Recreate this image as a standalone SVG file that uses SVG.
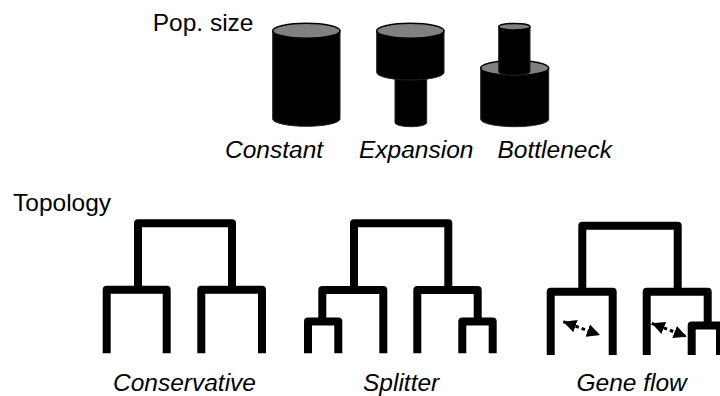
<svg xmlns="http://www.w3.org/2000/svg" width="720" height="396" viewBox="0 0 720 396">
  <style>
    .lbl { font-family: "Liberation Sans", Arial, Helvetica, sans-serif; font-size: 24.5px; fill: #000; }
    .it { font-style: italic; }
    .body { fill: #000; stroke: #222; stroke-width: 1; }
    .top { fill: #808080; stroke: #000; stroke-width: 1.5; }
    .tree { fill: none; stroke: #000; stroke-width: 8; stroke-linejoin: round; stroke-linecap: butt; }
    .flow { fill: none; stroke: #000; stroke-width: 3; stroke-dasharray: 3.5 3; }
  </style>
  <defs>
    <marker id="ah" markerUnits="userSpaceOnUse" markerWidth="14" markerHeight="14" refX="13" refY="7" orient="auto-start-reverse" viewBox="0 0 14 14">
      <path d="M0,0.5 L13,7 L0,13.5 Z" fill="#000"/>
    </marker>
  </defs>

  <rect width="720" height="396" fill="#fff"/>

  <text class="lbl" x="152.7" y="31">Pop. size</text>
  <text class="lbl" x="13" y="211">Topology</text>

  <g id="constant">
    <path class="body" d="M272.7,30.7 L272.7,119.2 A33.7,7.5 0 0 0 340,119.2 L340,30.7 Z"/>
    <ellipse class="top" cx="306.35" cy="30.7" rx="33.65" ry="7.5"/>
    <text class="lbl it" x="225" y="158.3">Constant</text>
  </g>

  <g id="expansion">
    <path class="body" d="M395,70 L395,122.7 A15.85,4 0 0 0 426.7,122.7 L426.7,70 Z"/>
    <path class="body" d="M376.7,30.7 L376.7,72.5 A33.65,7.5 0 0 0 444,72.5 L444,30.7 Z"/>
    <ellipse class="top" cx="410.35" cy="30.7" rx="33.65" ry="7.5"/>
    <text class="lbl it" x="359" y="158.3">Expansion</text>
  </g>

  <g id="bottleneck">
    <path class="body" d="M480.7,68 L480.7,119.2 A34,7.5 0 0 0 548.7,119.2 L548.7,68 Z"/>
    <ellipse class="top" cx="514.7" cy="68" rx="34" ry="7.5"/>
    <path class="body" d="M498.7,26.7 L498.7,72 A15.65,3.5 0 0 0 530,72 L530,26.7 Z"/>
    <ellipse class="top" cx="514.35" cy="26.7" rx="15.65" ry="3.3"/>
    <text class="lbl it" x="497.5" y="158.3">Bottleneck</text>
  </g>

  <g id="conservative">
    <path class="tree" d="M138,290 V223.3 H232 V290"/>
    <path class="tree" d="M106.7,353.3 V289.7 H166.7 V353.3"/>
    <path class="tree" d="M201.3,353.3 V289.7 H262 V353.3"/>
    <text class="lbl it" x="113" y="390.5">Conservative</text>
  </g>

  <g id="splitter">
    <path class="tree" d="M354,290 V223.3 H448.3 V290"/>
    <path class="tree" d="M322.3,321.5 V290 H383.3 V353.3"/>
    <path class="tree" d="M308,353.3 V321.5 H338.3 V353.3"/>
    <path class="tree" d="M417.3,353.3 V290 H477.7 V321.5"/>
    <path class="tree" d="M462.3,353.3 V321.5 H492.7 V353.3"/>
    <text class="lbl it" x="363" y="390.5">Splitter</text>
  </g>

  <g id="geneflow">
    <path class="tree" d="M582.3,292 V225.8 H677.7 V292"/>
    <path class="tree" d="M550.7,355 V291.8 H612.7 V355"/>
    <path class="tree" d="M646.7,355 V291.8 H707.7 V325.5"/>
    <path class="tree" d="M691.7,355 V325.5 H720 V355"/>
    <text class="lbl it" x="576.5" y="390.5">Gene flow</text>
  </g>

  <g id="connectors">
    <line class="flow" x1="563.3" y1="321.7" x2="600" y2="335" marker-start="url(#ah)" marker-end="url(#ah)"/>
    <line class="flow" x1="651.7" y1="323.3" x2="686.7" y2="336.7" marker-start="url(#ah)" marker-end="url(#ah)"/>
  </g>
</svg>
